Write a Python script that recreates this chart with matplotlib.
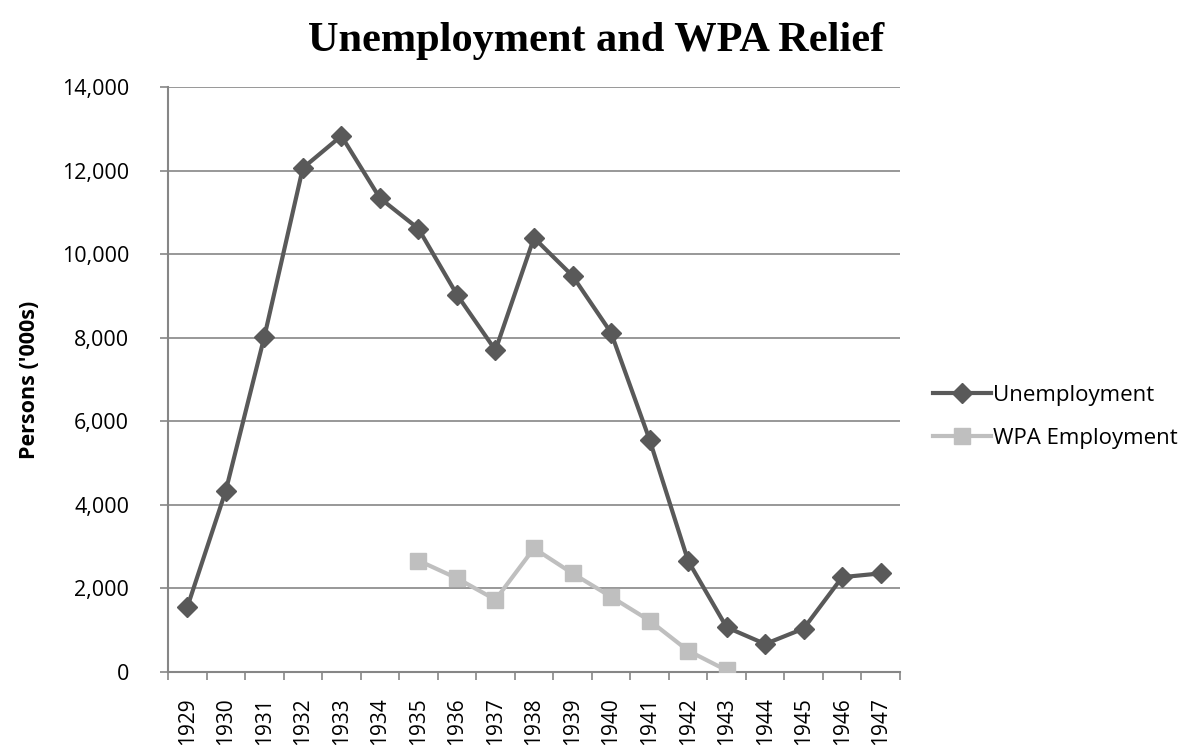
import numpy as np
import matplotlib.pyplot as plt
from matplotlib.ticker import FuncFormatter

years = [str(y) for y in range(1929, 1948)]
unemployment = [1550, 4340, 8020, 12060, 12830, 11340, 10610, 9030, 7700, 10390,
                9480, 8120, 5560, 2660, 1070, 670, 1040, 2270, 2360]
wpa_years = [str(y) for y in range(1935, 1944)]
wpa_employment = [2667, 2244, 1730, 2960, 2360, 1800, 1230, 510, 40]

plt.rcParams['font.family'] = ['Open Sans', 'DejaVu Sans']

fig = plt.figure(figsize=(12.02, 7.5), dpi=100)
ax = fig.add_axes([168 / 1202, 1 - 672 / 750, (900 - 168) / 1202, (672 - 87) / 750])

x_all = np.arange(len(years))
x_wpa = np.array([years.index(y) for y in wpa_years])

ax.plot(x_all, unemployment, color='#595959', lw=3, marker='D', ms=10,
        label='Unemployment', zorder=3)
ax.plot(x_wpa, wpa_employment, color='#BFBFBF', lw=3, marker='s', ms=12,
        label='WPA Employment', zorder=3)

ax.set_xlim(-0.5, len(years) - 0.5)
ax.set_ylim(0, 14000)
ax.set_yticks(np.arange(0, 14001, 2000))
ax.yaxis.set_major_formatter(FuncFormatter(lambda v, p: f'{int(v):,}'))
ax.set_xticks(x_all)
ax.set_xticklabels(years, rotation=90, fontsize=15)
ax.set_xticks(np.arange(-0.5, len(years)), minor=True)
ax.tick_params(axis='x', which='major', length=0, pad=18)
ax.tick_params(axis='x', which='minor', length=6, color='#868686', width=1.2)
ax.tick_params(axis='y', length=6, color='#868686', width=1.2, labelsize=15.5, pad=22)

ax.grid(axis='y', color='#868686', lw=1.2)
ax.set_axisbelow(True)
for s in ['top', 'right']:
    ax.spines[s].set_visible(False)
for s in ['left', 'bottom']:
    ax.spines[s].set_color('#868686')
    ax.spines[s].set_linewidth(1.5)

ax.set_ylabel("Persons ('000s)", fontsize=15.5, fontweight='bold', labelpad=16)

fig.text(0.496, 0.932, 'Unemployment and WPA Relief', ha='center', va='baseline',
         fontsize=30.5, fontweight='bold', family='Liberation Serif')

fig.legend(loc='center left', bbox_to_anchor=(913 / 1202, 1 - 417 / 750), frameon=False,
           fontsize=16, handlelength=2.6, handletextpad=0.1, labelspacing=1.0)

fig.savefig('out.png', dpi=100)
